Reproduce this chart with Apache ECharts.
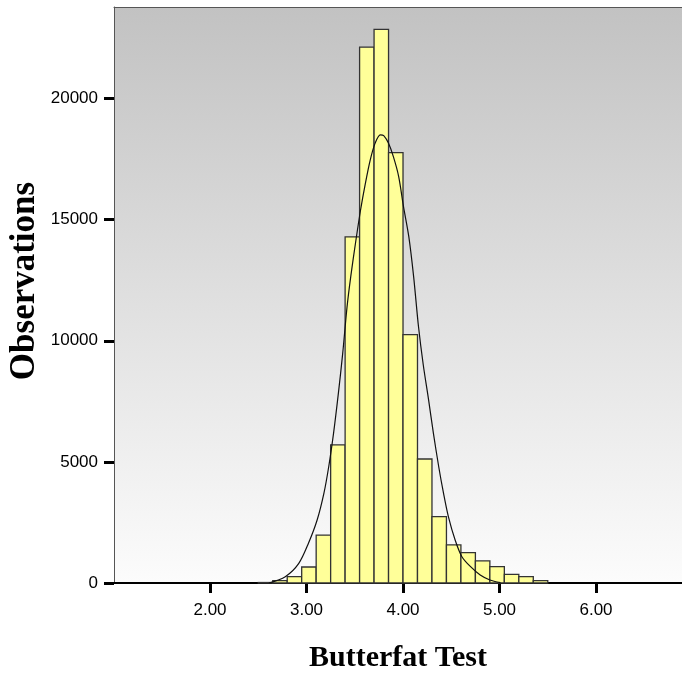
<!DOCTYPE html>
<html>
<head>
<meta charset="utf-8">
<script src="https://cdn.jsdelivr.net/npm/echarts@6/dist/echarts.min.js"></script>
<style>
html,body{margin:0;padding:0;background:#fff;}
#chart{width:682px;height:674px;}
</style>
</head>
<body>
<div id="chart"></div>
<script>
// Histogram bins (Butterfat Test) and observation counts
const binLo = [2.50, 2.65, 2.80, 2.95, 3.10, 3.25, 3.40, 3.55, 3.70, 3.85, 4.00, 4.15, 4.30, 4.45, 4.60, 4.75, 4.90, 5.05, 5.20, 5.35];
const binHi = [2.65, 2.80, 2.95, 3.10, 3.25, 3.40, 3.55, 3.70, 3.85, 4.00, 4.15, 4.30, 4.45, 4.60, 4.75, 4.90, 5.05, 5.20, 5.35, 5.50];
const counts = [20, 100, 260, 660, 1980, 5700, 14290, 22120, 22860, 17770, 10250, 5120, 2740, 1575, 1252, 915, 673, 358, 262, 96];

// Fitted normal curve
const curveX = [2.61, 2.78, 2.92, 3.02, 3.11, 3.18, 3.23, 3.28, 3.33, 3.375, 3.42, 3.46, 3.51, 3.56, 3.61, 3.66, 3.71, 3.765, 3.80, 3.85, 3.90, 3.955, 4.005, 4.06, 4.11, 4.16, 4.21, 4.265, 4.315, 4.37, 4.42, 4.47, 4.54, 4.61, 4.70, 4.80, 4.90, 5.01];
const curveY = [0, 260, 810, 1640, 2600, 3700, 4800, 6180, 7830, 9480, 11400, 12700, 14100, 15400, 16500, 17460, 18150, 18500, 18470, 18150, 17600, 16780, 15540, 14300, 12650, 10600, 9000, 7560, 6180, 4800, 3700, 2740, 1775, 1086, 673, 330, 124, 12];

// Tick values
const xTicks = [2, 3, 4, 5, 6];
const yTicks = [0, 5000, 10000, 15000, 20000];

const xMin = 1.005, xMax = 6.891, yMax = 23780;

const chart = echarts.init(document.getElementById('chart'), null, {renderer: 'canvas'});

const histData = binLo.map((lo, i) => [lo, binHi[i], counts[i]]);
const curveData = curveX.map((x, i) => [x, curveY[i]]);

const labelFont = 'Liberation Sans, Arial, sans-serif';
const titleFont = 'Liberation Serif, Times New Roman, serif';

chart.setOption({
  animation: false,
  backgroundColor: '#ffffff',
  grid: {
    left: 114, top: 7, right: 0, bottom: 91,
    containLabel: false,
    outerBoundsMode: 'none',
    show: true,
    borderWidth: 0,
    backgroundColor: new echarts.graphic.LinearGradient(0, 0, 0, 1, [
      {offset: 0, color: '#c2c2c2'},
      {offset: 1, color: '#fcfcfc'}
    ])
  },
  xAxis: [{
    type: 'value', min: xMin, max: xMax, position: 'bottom',
    axisLine: {show: true, onZero: false, lineStyle: {color: '#000', width: 2}},
    axisTick: {show: true, customValues: xTicks, length: 10, lineStyle: {color: '#000', width: 3}},
    axisLabel: {show: true, customValues: xTicks, formatter: v => Number(v).toFixed(2),
      fontSize: 17, fontFamily: labelFont, color: '#000', margin: 19},
    splitLine: {show: false},
    name: 'Butterfat Test', nameLocation: 'middle', nameGap: 60,
    nameTextStyle: {fontFamily: titleFont, fontWeight: 'bold', fontSize: 30, color: '#000'}
  }, {
    type: 'value', min: xMin, max: xMax, position: 'top',
    axisLine: {show: true, onZero: false, lineStyle: {color: '#555', width: 1}},
    axisTick: {show: false}, axisLabel: {show: false}, splitLine: {show: false}
  }],
  yAxis: {
    type: 'value', min: 0, max: yMax,
    axisLine: {show: true, onZero: false, lineStyle: {color: '#555', width: 1}},
    axisTick: {show: true, customValues: yTicks, length: 10, lineStyle: {color: '#000', width: 3}},
    axisLabel: {show: true, customValues: yTicks, formatter: v => String(v),
      fontSize: 17, fontFamily: labelFont, color: '#000', margin: 16},
    splitLine: {show: false},
    name: 'Observations', nameLocation: 'middle', nameGap: 72,
    nameMoveOverlap: false,
    nameTextStyle: {fontFamily: titleFont, fontWeight: 'bold', fontSize: 35, color: '#000',
      padding: [0, 0, 0, 28]}
  },
  series: [{
    type: 'custom',
    xAxisIndex: 0,
    data: histData,
    encode: {x: [0, 1], y: 2},
    renderItem: function (params, api) {
      const p0 = api.coord([api.value(0), api.value(2)]);
      const p1 = api.coord([api.value(1), 0]);
      return {
        type: 'rect',
        shape: {x: p0[0], y: p0[1], width: p1[0] - p0[0], height: p1[1] - p0[1]},
        style: {fill: '#ffff99', stroke: '#333333', lineWidth: 1.3}
      };
    },
    z: 2
  }, {
    type: 'line',
    xAxisIndex: 0,
    data: curveData,
    smooth: 0.3,
    showSymbol: false,
    symbol: 'none',
    lineStyle: {color: '#111', width: 1.2},
    z: 3
  }]
});
</script>
</body>
</html>
